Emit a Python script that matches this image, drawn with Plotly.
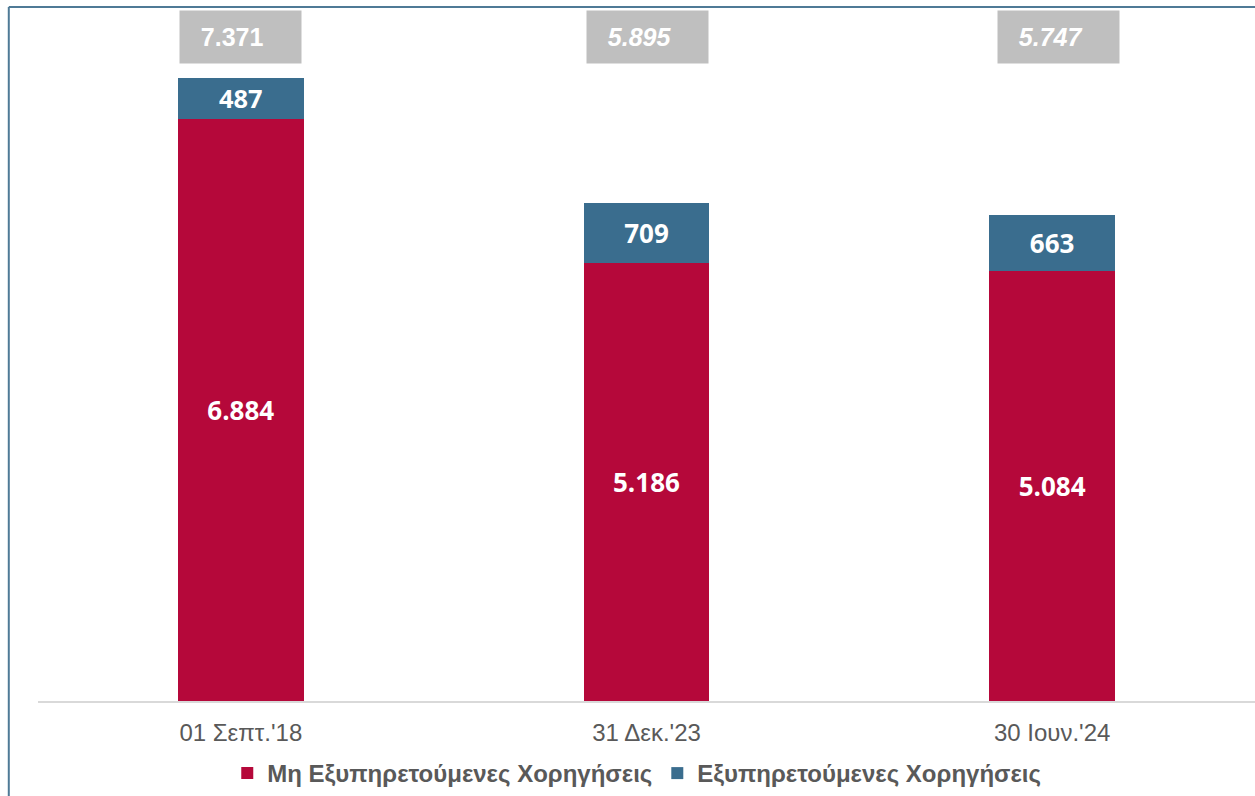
import plotly.graph_objects as go

categories = ["01 Σεπτ.'18", "31 Δεκ.'23", "30 Ιουν.'24"]
npl = [6884, 5186, 5084]
pl = [487, 709, 663]
totals = [7371, 5895, 5747]
total_labels = ["7.371", "<i>5.895</i>", "<i>5.747</i>"]

series_names = ["Μη Εξυπηρετούμενες Χορηγήσεις", "Εξυπηρετούμενες Χορηγήσεις"]

RED = "#B5083A"
BLUE = "#3A6D8E"
GREY_TXT = "#595959"


def fmt(v):
    # greek thousands separator
    return f"{v:,}".replace(",", ".")


fig = go.Figure()

fig.add_trace(go.Bar(
    x=categories, y=npl, name=series_names[0],
    marker=dict(color=RED, line=dict(width=0)),
    width=0.31,
    text=[fmt(v) for v in npl],
    textposition="inside", insidetextanchor="middle",
    textfont=dict(family="Open Sans", size=26, color="white", weight="bold"),
    hoverinfo="skip",
))
fig.add_trace(go.Bar(
    x=categories, y=pl, name=series_names[1],
    marker=dict(color=BLUE, line=dict(width=0)),
    width=0.31,
    text=[fmt(v) for v in pl],
    textposition="inside", insidetextanchor="middle",
    textfont=dict(family="Open Sans", size=26, color="white", weight="bold"),
    hoverinfo="skip",
))

# grey total boxes along the top
shifts = [0, 1, 6]
for cat, lab, sh in zip(categories, total_labels, shifts):
    fig.add_annotation(
        x=cat, xref="x", y=0.958, yref="paper", yanchor="middle",
        text="&nbsp;&nbsp;&nbsp;" + lab, showarrow=False,
        width=121, height=52, align="left", valign="middle",
        bgcolor="#BFBFBF", borderpad=0, xshift=sh,
        font=dict(family="Arial", size=25, color="white", weight="bold"),
    )

# frame lines (top and left)
fig.add_shape(type="line", xref="paper", yref="paper",
              x0=-0.024, x1=1.0, y0=1.0014, y1=1.0014,
              line=dict(color="#4F7A96", width=2))
fig.add_shape(type="line", xref="paper", yref="paper",
              x0=-0.024, x1=-0.024, y0=1.0014, y1=-0.14,
              line=dict(color="#4F7A96", width=2))

fig.update_layout(
    width=1255, height=796,
    barmode="stack",
    paper_bgcolor="white", plot_bgcolor="white",
    margin=dict(l=38, r=0, t=8, b=93),
    font=dict(family="Arial"),
    xaxis=dict(
        showline=True, linecolor="#D9D9D9", linewidth=2,
        ticks="", ticklabelstandoff=9,
        tickfont=dict(family="Arial", size=24, color=GREY_TXT),
        range=[-0.5, 2.5], fixedrange=True,
    ),
    yaxis=dict(
        range=[0, 8197], visible=False, showgrid=False, zeroline=False,
    ),
    showlegend=True,
    legend=dict(
        orientation="h", x=0.492, xanchor="center", y=-0.105, yanchor="middle",
        font=dict(family="Arial", size=24, color=GREY_TXT, weight="bold"),
        itemwidth=30, traceorder="normal",
    ),
)

fig.write_html("out.html", config={"displayModeBar": False},
               post_script="document.body.style.margin='0';")
